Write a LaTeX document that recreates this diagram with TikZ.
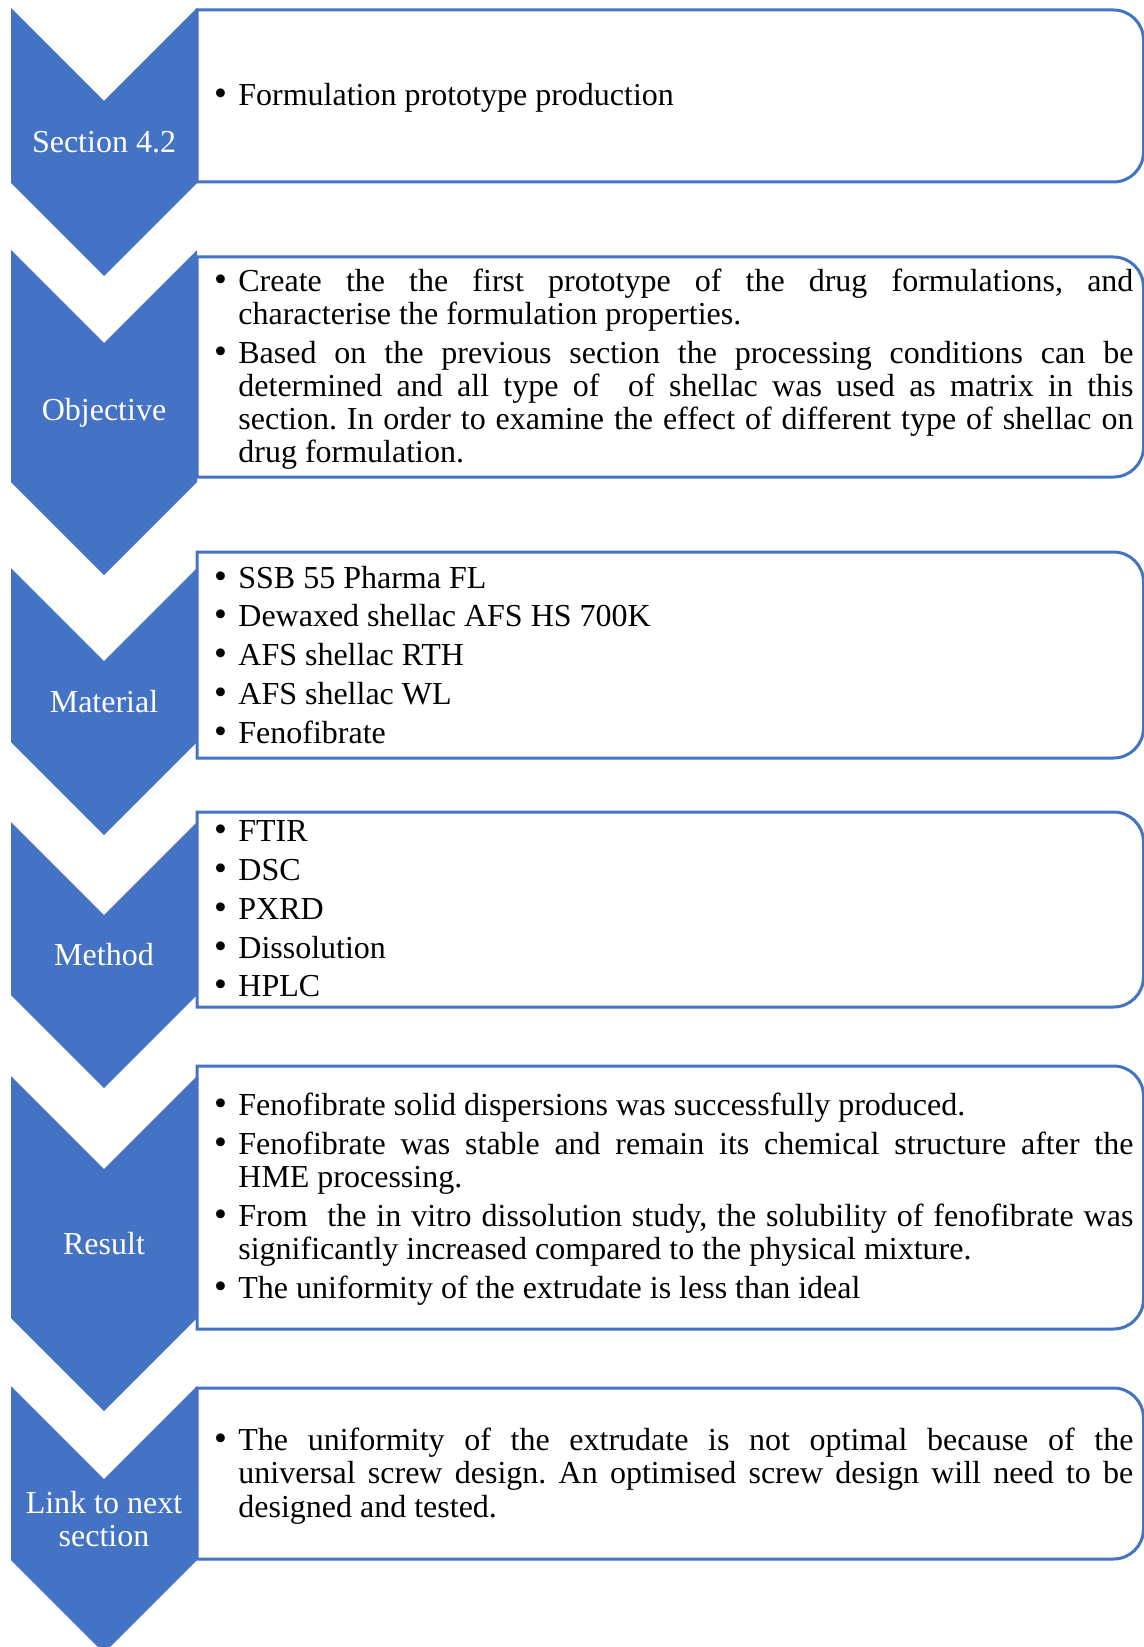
\documentclass[tikz,border=0pt]{standalone}
\usepackage{fontspec}
\setmainfont{Liberation Serif}
\usepackage{tikz}
\definecolor{chevblue}{HTML}{4472C4}
\newcommand{\bitem}[1]{\par\leftskip=10pt\noindent\llap{\hbox to 10pt{\kern-2.2pt\scalebox{1.15}{\textbullet}\hfil}}#1\par}
\tikzset{
  chevron/.style={fill=chevblue, draw=none},
  chevlabel/.style={text=white, font=\fontsize{16}{16.5}\selectfont, align=center, inner sep=0pt},
  infobox/.style={draw=chevblue, line width=1.5pt, fill=white},
  itemtext/.style={
    anchor=west,
    text width=457.5pt,
    align=justify,
    inner sep=0pt,
    text=black,
    font=\fontsize{16}{16.6}\selectfont,
    execute at begin node={\frenchspacing\setlength{\parskip}{2.8pt}}
  }
}

\begin{document}
\begin{tikzpicture}[x=0.5pt, y=0.5pt]
  \useasboundingbox (0,0) rectangle (1144,-1647);
  \clip (0,0) rectangle (1144,-1647);

  % boxes, right side rounded
  \foreach \t/\b in {10/182, 257/477, 552/758, 812/1007, 1066/1329, 1388/1559}
    \draw[infobox] (197,-\t) -- (1113.5,-\t) arc[start angle=90, end angle=0, radius=15pt]
      -- (1143.5,-\b+30) arc[start angle=0, end angle=-90, radius=15pt] -- (197,-\b) -- cycle;

  % chevrons
  \foreach \t/\b/\txt [count=\i] in {8/183/{Section 4.2}, 250/482/{Objective}, 568/742/{Material},
      822/995/{Method}, 1076/1318/{Result}, 1386/1560/{Link to next\\section}} {
    \fill[chevron] (11,-\t) -- (104,-\t-93) -- (197,-\t) -- (197,-\b) -- (104,-\b-93) -- (11,-\b) -- cycle;
    \node[chevlabel] (lab\i) at (104,{-(\t+93+\b)/2}) {\txt};
  }

  \node[itemtext] (list1) at (218,-90) {\bitem{Formulation prototype production}};
  \node[itemtext] (list2) at (218,-361)
    {\bitem{Create the the first prototype of the drug formulations, and\linebreak
      characterise the formulation properties.}
     \bitem{Based on the previous section the processing conditions can be\linebreak
      determined and all type of\ \ of shellac was used as matrix in this\linebreak
      section. In order to examine the effect of different type of shellac on\linebreak
      drug formulation.}};
  \node[itemtext] (list3) at (218,-646.5)
    {\bitem{SSB 55 Pharma FL}
     \bitem{Dewaxed shellac AFS HS 700K}
     \bitem{AFS shellac RTH}
     \bitem{AFS shellac WL}
     \bitem{Fenofibrate}};
  \node[itemtext] (list4) at (218,-900)
    {\bitem{FTIR}
     \bitem{DSC}
     \bitem{PXRD}
     \bitem{Dissolution}
     \bitem{HPLC}};
  \node[itemtext] (list5) at (218,-1191)
    {\bitem{Fenofibrate solid dispersions was successfully produced.}
     \bitem{Fenofibrate was stable and remain its chemical structure after the\linebreak
      HME processing.}
     \bitem{From\ \ the in vitro dissolution study, the solubility of fenofibrate was\linebreak
      significantly increased compared to the physical mixture.}
     \bitem{The uniformity of the extrudate is less than ideal}};
  \node[itemtext] (list6) at (218,-1468)
    {\bitem{The uniformity of the extrudate is not optimal because of the\linebreak
      universal screw design. An optimised screw design will need to be\linebreak
      designed and tested.}};
\end{tikzpicture}
\end{document}
